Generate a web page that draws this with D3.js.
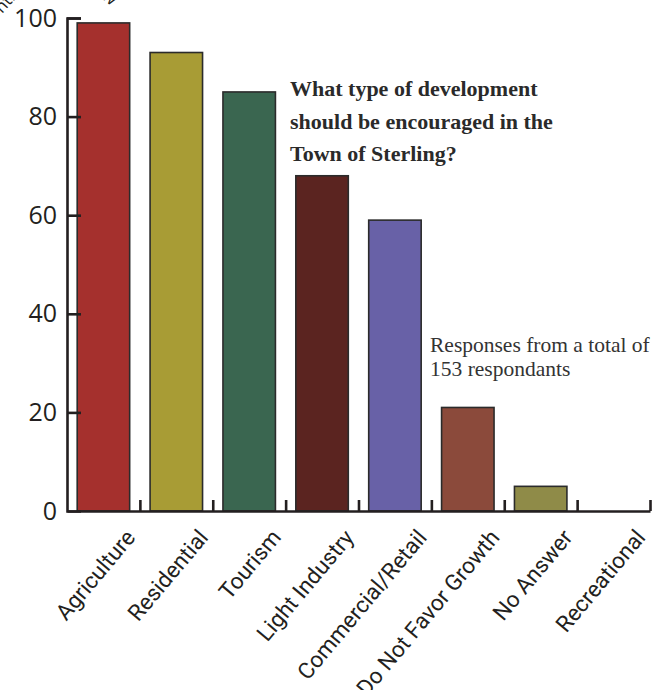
<!DOCTYPE html>
<html><head><meta charset="utf-8">
<script src="https://cdn.jsdelivr.net/npm/d3@7"></script>
<style>
  body { margin: 0; background: #fff; }
  .tick text { font-family: "Open Sans", sans-serif; }
</style>
</head><body>
<svg id="chart" width="670" height="690"></svg>
<script>
// Survey answers: number of respondents choosing each kind of development
const categories = ["Agriculture", "Residential", "Tourism", "Light Industry",
  "Commercial/Retail", "Do Not Favor Growth", "No Answer", "Recreational"];
const responses = [99, 93, 85, 68, 59, 21, 5, 0];
const barColors = ["#a5302d", "#a89c35", "#3a6650", "#5b2420",
  "#6861a7", "#8b4a3b", "#8f8b48", "#8f8b48"];
const yTicks = [0, 20, 40, 60, 80, 100];
const titleLines = ["What type of development", "should be encouraged in the", "Town of Sterling?"];
const noteLines = ["Responses from a total of", "153 respondants"];

const svg = d3.select("#chart");
const inkColor = "#231f20";
const plotLeft = 67, plotRight = 650, plotTop = 18, plotBottom = 511;

const y = d3.scaleLinear().domain([0, 100]).range([plotBottom, plotTop]);
const x = d3.scaleBand().domain(categories).range([plotLeft, plotRight])
  .paddingInner(0.28).paddingOuter(0.14);
// boundaries between category slots, for the upward tick marks
const slot = d3.scaleLinear().domain([0, categories.length]).range([plotLeft, plotRight]);

// partly hidden rotated heading fragments along the top edge
svg.append("text").attr("transform", "translate(2,14) rotate(-48)")
  .attr("font-family", "Open Sans, sans-serif").attr("font-size", 17)
  .attr("fill", inkColor).text("nth");
svg.append("text").attr("transform", "translate(101,-2) rotate(38)")
  .attr("font-family", "Open Sans, sans-serif").attr("font-size", 17)
  .attr("fill", inkColor).text("w");

// bars
svg.append("g").selectAll("rect")
  .data(categories.map((c, i) => ({ c, v: responses[i], col: barColors[i] })))
  .join("rect")
  .attr("x", d => x(d.c))
  .attr("width", x.bandwidth())
  .attr("y", d => y(d.v))
  .attr("height", d => y(0) - y(d.v))
  .attr("fill", d => d.col)
  .attr("stroke", "#2b2b2b")
  .attr("stroke-width", 1.6);

// y axis with inward ticks
const yAxis = svg.append("g").attr("transform", `translate(${plotLeft},0)`)
  .call(d3.axisLeft(y).tickValues(yTicks).tickSize(-14).tickSizeOuter(-14).tickPadding(10));
yAxis.selectAll("line, path").attr("stroke", inkColor).attr("stroke-width", 2.6);
yAxis.selectAll(".tick line").filter(d => d === 0).remove();
yAxis.selectAll("text").attr("font-size", 25).attr("fill", inkColor);

// x axis with upward ticks at slot boundaries
const xAxis = svg.append("g").attr("transform", `translate(0,${plotBottom})`)
  .call(d3.axisBottom(slot).tickValues(d3.range(1, categories.length + 1))
    .tickSize(-11).tickSizeOuter(0).tickFormat(""));
xAxis.selectAll("line, path").attr("stroke", inkColor).attr("stroke-width", 2.6);

// rotated category labels
svg.append("g").selectAll("text").data(categories).join("text")
  .attr("transform", d => `translate(${x(d) + x.bandwidth() / 2 + 33},${plotBottom + 27}) rotate(-50)`)
  .attr("text-anchor", "end")
  .attr("font-family", "Roboto, sans-serif")
  .attr("font-size", 22.5)
  .attr("fill", inkColor)
  .text(d => d);

// question heading
svg.append("text")
  .attr("font-family", "Liberation Serif, serif").attr("font-weight", "bold")
  .attr("font-size", 22).attr("fill", "#2a2a2a")
  .selectAll("tspan").data(titleLines).join("tspan")
  .attr("x", 290).attr("y", (d, i) => 96 + i * 32.5).text(d => d);

// respondent note
svg.append("text")
  .attr("font-family", "Liberation Serif, serif")
  .attr("font-size", 21.5).attr("fill", "#333")
  .selectAll("tspan").data(noteLines).join("tspan")
  .attr("x", 430).attr("y", (d, i) => 352 + i * 24).text(d => d);
</script>
</body></html>
